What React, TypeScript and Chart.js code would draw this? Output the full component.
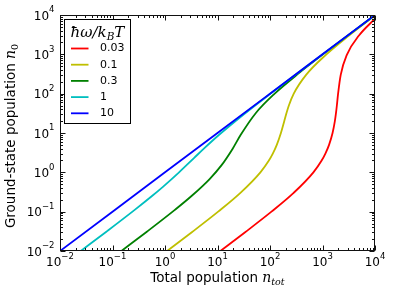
import React, { useEffect, useRef } from "react";
import { Chart, registerables } from "chart.js";

Chart.register(...registerables);

const W = 395;
const H = 296;

// ħω/k_BT = 0.03
const redTotal = [11.364, 33.599, 106.62, 281.82, 670.46, 963.33, 1134.7, 1333.1, 1554.7, 1720.0, 1795.7, 1877.3, 1981.5, 2223.7, 2940.1, 4945, 10000];
const redGround = [0.01, 0.03, 0.1, 0.3, 1, 2, 3, 5, 10, 20, 30, 50, 100, 300, 1000, 3000, 8054];
// ħω/k_BT = 0.1
const yellowTotal = [1.0962, 3.2424, 10.302, 27.318, 65.589, 95.198, 113.06, 134.66, 161.39, 186.75, 203.04, 228.7, 283.39, 486.79, 1188.0, 3188.3, 10000];
const yellowGround = [0.01, 0.03, 0.1, 0.3, 1, 2, 3, 5, 10, 20, 30, 50, 100, 300, 1000, 3000, 9811.6];
// ħω/k_BT = 0.3
const greenTotal = [0.1479, 0.4511, 1.5408, 3.2003, 7.0, 11.859, 19.459, 27.71, 53.81, 121.37, 355.0, 1021.8, 10000];
const greenGround = [0.01, 0.03093, 0.1111, 0.25, 0.6667, 1.5, 4, 9, 32.33, 99, 332.3, 999, 9977];
// ħω/k_BT = 1
const cyanTotal = [0.02491, 0.07632, 0.2649, 0.565, 0.913, 1.852, 3.6, 5.495, 10.74, 31.92, 100.98, 1001, 10000];
const cyanGround = [0.01, 0.03093, 0.1111, 0.25, 0.4286, 1, 2.333, 4, 9, 30, 99, 999, 9998];
// ħω/k_BT = 10
const blueTotal = [0.01, 0.1, 1, 10, 100, 1000, 10000];
const blueGround = [0.01, 0.1, 1, 10, 100, 1000, 10000];

const seriesLabels = ["0.03", "0.1", "0.3", "1", "10"];
const seriesColors = ["#ff0000", "#bfbf00", "#008000", "#00bfbf", "#0000ff"];
const xTickExponents = [-2, -1, 0, 1, 2, 3, 4];
const yTickExponents = [-2, -1, 0, 1, 2, 3, 4];
const minorMultipliers = [2, 3, 4, 5, 6, 7, 8, 9];

const SANS = '"DejaVu Sans", sans-serif';
const SERIF = '"DejaVu Serif", serif';

type Part = { text: string; font: string; dy?: number };

function partsWidth(ctx: CanvasRenderingContext2D, parts: Part[]) {
  let w = 0;
  for (const p of parts) {
    ctx.font = p.font;
    w += ctx.measureText(p.text).width;
  }
  return w;
}

function drawParts(ctx: CanvasRenderingContext2D, parts: Part[], x: number, y: number) {
  let cx = x;
  for (const p of parts) {
    ctx.font = p.font;
    ctx.fillText(p.text, cx, y + (p.dy || 0));
    cx += ctx.measureText(p.text).width;
  }
}

function powerLabel(e: number): Part[] {
  const exp = e < 0 ? "\u2212" + Math.abs(e) : String(e);
  return [
    { text: "10", font: `12px ${SANS}` },
    { text: exp, font: `8.5px ${SANS}`, dy: -7.2 },
  ];
}

const mplPlugin = {
  id: "mplAxes",
  afterDatasetsDraw(chart: any) {
    const { ctx, chartArea: a, scales } = chart;
    const xs = scales.x;
    const ys = scales.y;
    const L = Math.round(a.left) + 0.5;
    const R = Math.round(a.right) - 0.5;
    const T = Math.round(a.top) + 0.5;
    const B = Math.round(a.bottom) - 0.5;
    ctx.save();
    ctx.strokeStyle = "#111";
    ctx.lineWidth = 1;
    ctx.beginPath();
    const tick = (v: number, len: number, axis: "x" | "y") => {
      if (axis === "x") {
        const p = Math.round(xs.getPixelForValue(v)) + 0.5;
        ctx.moveTo(p, B);
        ctx.lineTo(p, B - len);
        ctx.moveTo(p, T);
        ctx.lineTo(p, T + len);
      } else {
        const p = Math.round(ys.getPixelForValue(v)) + 0.5;
        ctx.moveTo(L, p);
        ctx.lineTo(L + len, p);
        ctx.moveTo(R, p);
        ctx.lineTo(R - len, p);
      }
    };
    for (const e of xTickExponents) {
      tick(Math.pow(10, e), 5, "x");
      if (e < xTickExponents[xTickExponents.length - 1])
        for (const m of minorMultipliers) tick(m * Math.pow(10, e), 2.5, "x");
    }
    for (const e of yTickExponents) {
      tick(Math.pow(10, e), 5, "y");
      if (e < yTickExponents[yTickExponents.length - 1])
        for (const m of minorMultipliers) tick(m * Math.pow(10, e), 2.5, "y");
    }
    ctx.stroke();
    ctx.strokeRect(L, T, R - L, B - T);

    // tick labels
    ctx.fillStyle = "#000";
    ctx.textAlign = "left";
    ctx.textBaseline = "alphabetic";
    for (const e of xTickExponents) {
      const parts = powerLabel(e);
      const w = partsWidth(ctx, parts);
      const px = xs.getPixelForValue(Math.pow(10, e));
      drawParts(ctx, parts, px - w / 2, a.bottom + 14.7);
    }
    for (const e of yTickExponents) {
      const parts = powerLabel(e);
      const w = partsWidth(ctx, parts);
      const py = ys.getPixelForValue(Math.pow(10, e));
      drawParts(ctx, parts, a.left - 5.5 - w, py + 4.5);
    }

    // axis titles
    const xt: Part[] = [
      { text: "Total population ", font: `13.5px ${SANS}` },
      { text: "n", font: `italic 14px ${SERIF}` },
      { text: "tot", font: `italic 9.5px ${SERIF}`, dy: 3 },
    ];
    const xw = partsWidth(ctx, xt);
    drawParts(ctx, xt, (a.left + a.right) / 2 - xw / 2, 281.5);

    const yt: Part[] = [
      { text: "Ground-state population ", font: `13.5px ${SANS}` },
      { text: "n", font: `italic 14px ${SERIF}` },
      { text: "0", font: `9.5px ${SERIF}`, dy: 3 },
    ];
    const yw = partsWidth(ctx, yt);
    ctx.save();
    ctx.translate(14.5, (a.top + a.bottom) / 2 + 3);
    ctx.rotate(-Math.PI / 2);
    drawParts(ctx, yt, -yw / 2, 0);
    ctx.restore();
    ctx.restore();
  },
  afterDraw(chart: any) {
    const { ctx } = chart;
    const bx = 64.5, by = 19.5, bw = 66, bh = 104;
    ctx.save();
    ctx.fillStyle = "#fff";
    ctx.fillRect(bx, by, bw, bh);
    ctx.strokeStyle = "#000";
    ctx.lineWidth = 1;
    ctx.strokeRect(bx, by, bw, bh);
    ctx.fillStyle = "#000";
    ctx.textAlign = "left";
    ctx.textBaseline = "alphabetic";
    const title: Part[] = [
      { text: "\u0127\u03c9/k", font: `italic 15px ${SERIF}` },
      { text: "B", font: `italic 10.5px ${SERIF}`, dy: 3 },
      { text: "T", font: `italic 15px ${SERIF}` },
    ];
    const tw = partsWidth(ctx, title);
    drawParts(ctx, title, bx + bw / 2 - tw / 2, 37);
    chart.data.datasets.forEach((ds: any, i: number) => {
      const cy = 48.5 + i * 16.2;
      ctx.strokeStyle = ds.borderColor;
      ctx.lineWidth = 1.8;
      ctx.beginPath();
      ctx.moveTo(71, cy);
      ctx.lineTo(88.5, cy);
      ctx.stroke();
      ctx.font = `11px ${SANS}`;
      ctx.textBaseline = "middle";
      ctx.fillText(ds.label, 100, cy);
    });
    ctx.restore();
  },
};

export default function App() {
  const ref = useRef<HTMLCanvasElement>(null);
  useEffect(() => {
    if (!ref.current) return;
    const totals = [redTotal, yellowTotal, greenTotal, cyanTotal, blueTotal];
    const grounds = [redGround, yellowGround, greenGround, cyanGround, blueGround];
    const datasets = seriesLabels.map((label, i) => ({
      label,
      data: totals[i].map((t, j) => ({ x: t, y: grounds[i][j] })),
      borderColor: seriesColors[i],
      backgroundColor: seriesColors[i],
      borderWidth: 1.8,
      pointRadius: 0,
      fill: false,
      cubicInterpolationMode: "monotone" as const,
      order: seriesLabels.length - i,
    }));
    const chart = new Chart(ref.current, {
      type: "line",
      data: { datasets },
      options: {
        responsive: false,
        animation: false,
        devicePixelRatio: 1,
        layout: { padding: { left: 60, right: 20, top: 15, bottom: 45 } },
        plugins: { legend: { display: false }, tooltip: { enabled: false } },
        scales: {
          x: { type: "logarithmic", min: 0.01, max: 10000, display: false },
          y: { type: "logarithmic", min: 0.01, max: 10000, display: false },
        },
      },
      plugins: [mplPlugin],
    });
    return () => chart.destroy();
  }, []);
  return (
    <div style={{ position: "fixed", left: 0, top: 0, width: W, height: H, background: "#fff" }}>
      <canvas ref={ref} width={W} height={H} style={{ display: "block", width: W, height: H }} />
    </div>
  );
}
